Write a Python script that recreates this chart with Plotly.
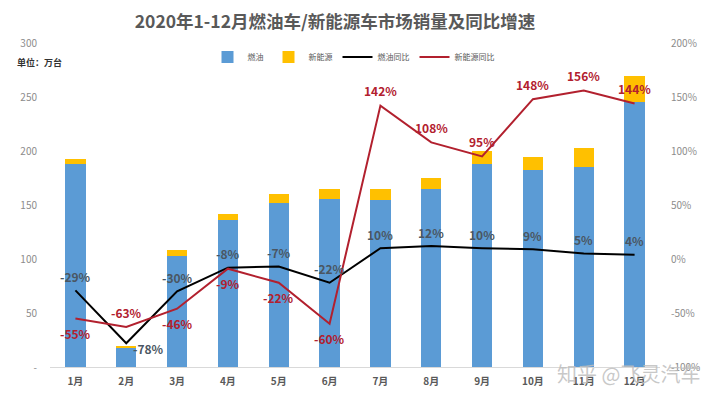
import plotly.graph_objects as go

months = ["1月", "2月", "3月", "4月", "5月", "6月", "7月", "8月", "9月", "10月", "11月", "12月"]
fuel_sales = [188, 18, 103, 136, 152, 156, 155, 165, 188, 182, 185, 245]
nev_sales = [5, 1, 5, 6, 8, 9, 10, 10, 12, 12, 18, 24]
fuel_yoy = [-29, -78, -30, -8, -7, -22, 10, 12, 10, 9, 5, 4]
nev_yoy = [-55, -63, -46, -9, -22, -60, 142, 108, 95, 148, 156, 144]
# label placement: 1 = above, -1 = below, 0 = right
fuel_lbl_pos = [1, 0, 1, 1, 1, 1, 1, 1, 1, 1, 1, 1]
nev_lbl_pos = [-1, 1, -1, -1, -1, -1, 1, 1, 1, 1, 1, 1]
left_ticks = [0, 50, 100, 150, 200, 250, 300]
right_ticks = [-100, -50, 0, 50, 100, 150, 200]

FONT = "Noto Sans CJK SC"
BLUE = "#5B9BD5"
YELLOW = "#FFC000"
RED = "#B2202E"

W, H = 712, 395
ML, MR, MT, MB = 39, 60, 35, 36
PW = W - ML - MR
PH = H - MT - MB

def px(xp):  # page x (reference pixels) -> paper x
    return (xp - 8 - ML) / PW

def py(yp):  # page y -> paper y
    return (MT + PH - (yp - 8)) / PH

fig = go.Figure()
fig.add_trace(go.Bar(x=months, y=fuel_sales, name="燃油", marker=dict(color=BLUE, line=dict(width=0)), width=0.4))
fig.add_trace(go.Bar(x=months, y=nev_sales, name="新能源", marker=dict(color=YELLOW, line=dict(width=0)), width=0.4))
fig.add_trace(go.Scatter(x=months, y=fuel_yoy, name="燃油同比", mode="lines", line=dict(color="#000000", width=2), yaxis="y2"))
fig.add_trace(go.Scatter(x=months, y=nev_yoy, name="新能源同比", mode="lines", line=dict(color=RED, width=2), yaxis="y2"))

annotations = []
for m, v, p in zip(months, fuel_yoy, fuel_lbl_pos):
    annotations.append(dict(
        x=m, y=v, xref="x", yref="y2", text=f"<b>{v}%</b>", showarrow=False,
        font=dict(family=FONT, size=12, color="#4A5662"),
        yshift=14 * p if p != 0 else -5, xshift=0 if p != 0 else 22,
    ))
for m, v, p in zip(months, nev_yoy, nev_lbl_pos):
    annotations.append(dict(
        x=m, y=v, xref="x", yref="y2", text=f"<b>{v}%</b>", showarrow=False,
        font=dict(family=FONT, size=12, color=RED),
        yshift=15 * p,
    ))
annotations.append(dict(
    x=px(12), y=py(62), xref="paper", yref="paper", xanchor="left", yanchor="middle",
    text="<b>单位：万台</b>", showarrow=False,
    font=dict(family=FONT, size=9, color="#333333"),
))
annotations.append(dict(
    x=px(702), y=py(373), xref="paper", yref="paper", xanchor="right", yanchor="middle",
    text="知乎 @飞灵汽车", showarrow=False,
    font=dict(family=FONT, size=20, color="rgba(190,190,190,0.85)"),
))

fig.update_layout(
    width=W, height=H,
    margin=dict(l=ML, r=MR, t=MT, b=MB),
    paper_bgcolor="white", plot_bgcolor="white",
    barmode="stack",
    title=dict(text="<b>2020年1-12月燃油车/新能源车市场销量及同比增速</b>", x=(335 - 8) / W, xanchor="center",
               y=1 - (22 - 8) / H, yanchor="middle", yref="container",
               font=dict(family=FONT, size=17.5, color="#595959")),
    font=dict(family=FONT, color="#7F7F7F"),
    legend=dict(orientation="h", x=px(352), xanchor="center", y=py(57), yanchor="middle",
                font=dict(family=FONT, size=8, color="#595959"), bgcolor="rgba(0,0,0,0)",
                itemwidth=30, traceorder="normal"),
    xaxis=dict(showgrid=False, showline=True, linecolor="#D9D9D9", linewidth=1,
               tickfont=dict(family=FONT, size=10, color="#595959"), ticks="",
               ticktext=[f"<b>{m}</b>" for m in months], tickvals=months, ticklabelstandoff=5),
    yaxis=dict(range=[0, 300], tickvals=left_ticks,
               ticktext=["-" if t == 0 else str(t) for t in left_ticks],
               showgrid=False, zeroline=False, showline=False,
               tickfont=dict(family=FONT, size=10, color="#8C8C8C"), ticklabelstandoff=12),
    yaxis2=dict(range=[-100, 200], tickvals=right_ticks,
                ticktext=[f"{t}%" for t in right_ticks], overlaying="y", side="right",
                showgrid=False, zeroline=False, showline=False,
                tickfont=dict(family=FONT, size=10, color="#8C8C8C"), ticklabelstandoff=10),
    annotations=annotations,
)

fig.write_html("out.html")
